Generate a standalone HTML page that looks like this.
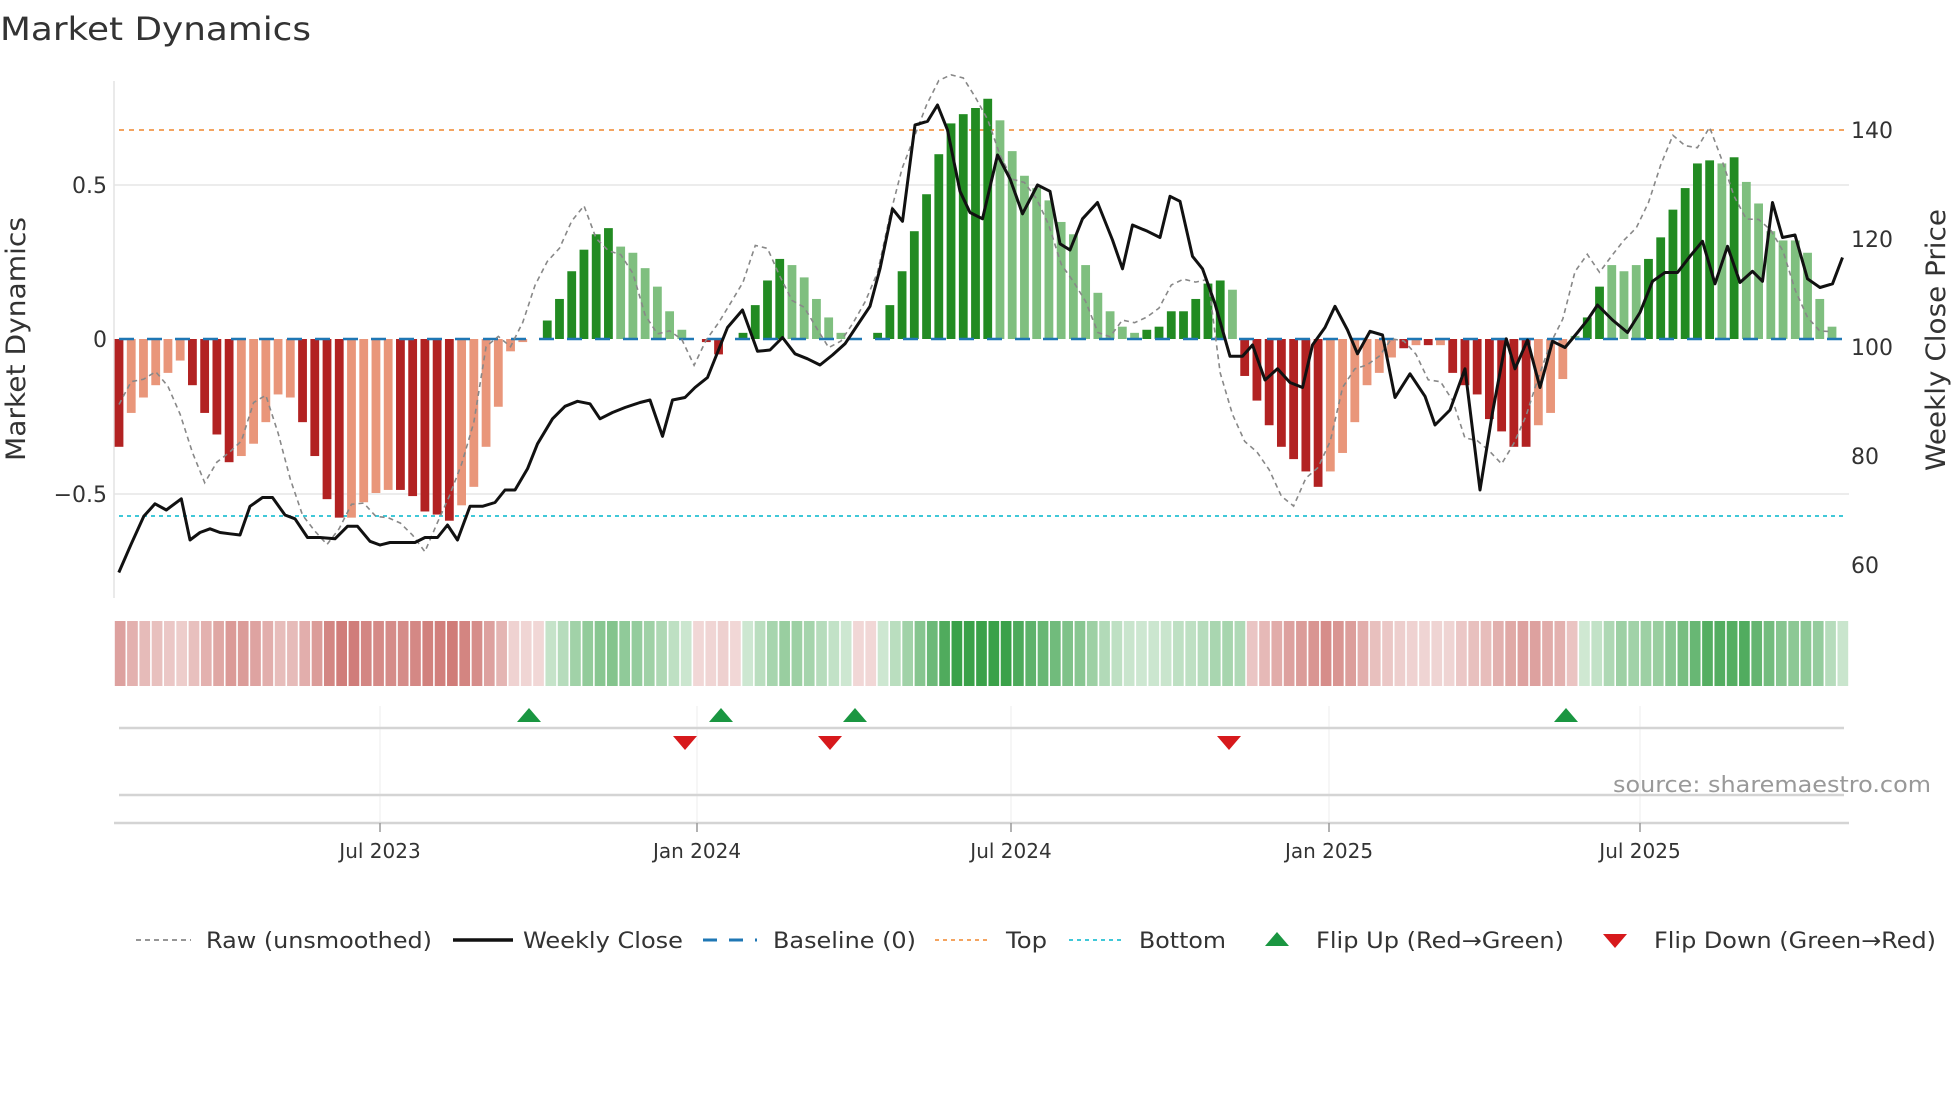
<!DOCTYPE html>
<html><head><meta charset="utf-8"><style>
html,body{margin:0;padding:0;background:#fff;}
svg{display:block;font-family:"DejaVu Sans","Liberation Sans",sans-serif;}
</style></head><body>
<svg id="c" width="1960" height="1102" viewBox="0 0 1960 1102" xmlns="http://www.w3.org/2000/svg">
<text x="0" y="40" font-size="32" fill="#333" textLength="311" lengthAdjust="spacingAndGlyphs">Market Dynamics</text>
</svg>
<script>
const S=document.getElementById('c');const NS='http://www.w3.org/2000/svg';
function el(t,a,txt){const e=document.createElementNS(NS,t);for(const k in a)e.setAttribute(k,a[k]);if(txt!==undefined)e.textContent=txt;S.appendChild(e);return e;}
const B=[[-.35,1],[-.24,0],[-.19,0],[-.15,0],[-.11,0],[-.07,0],[-.15,1],[-.24,1],[-.31,1],[-.40,1],[-.38,0],[-.34,0],[-.27,0],[-.18,0],[-.19,0],[-.27,1],[-.38,1],[-.52,1],[-.58,1],[-.58,0],[-.53,0],[-.50,0],[-.49,0],[-.49,1],[-.51,1],[-.56,1],[-.57,1],[-.59,1],[-.54,0],[-.48,0],[-.35,0],[-.22,0],[-.04,0],[-.01,0],[0,0],
[.06,1],[.13,1],[.22,1],[.29,1],[.34,1],[.36,1],[.30,0],[.28,0],[.23,0],[.17,0],[.09,0],[.03,0],[.0,0],[-.01,1],[-.05,1],[0,0],
[.02,1],[.11,1],[.19,1],[.26,1],[.24,0],[.20,0],[.13,0],[.07,0],[.02,0],[0,0],[0,0],
[.02,1],[.11,1],[.22,1],[.35,1],[.47,1],[.60,1],[.70,1],[.73,1],[.75,1],[.78,1],[.71,0],[.61,0],[.53,0],[.49,0],[.45,0],[.38,0],[.34,0],[.24,0],[.15,0],[.09,0],[.04,0],[.02,0],[.03,1],[.04,1],[.09,1],[.09,1],[.13,1],[.18,1],[.19,1],[.16,0],[.11,0],
[-.12,1],[-.20,1],[-.28,1],[-.35,1],[-.39,1],[-.43,1],[-.48,1],[-.43,0],[-.37,0],[-.27,0],[-.15,0],[-.11,0],[-.06,0],[-.03,1],[-.02,0],[-.02,1],[-.02,0],[-.11,1],[-.15,1],[-.18,1],[-.26,1],[-.30,1],[-.35,1],[-.35,1],[-.28,0],[-.24,0],[-.13,0],
[.01,0],[.07,1],[.17,1],[.24,0],[.22,0],[.24,0],[.26,1],[.33,1],[.42,1],[.49,1],[.57,1],[.58,1],[.57,0],[.59,1],[.51,0],[.44,0],[.35,0],[.32,0],[.32,0],[.28,0],[.13,0],[.04,0]];
B.splice(92,1);
const N=B.length,X0=119,DX=(1832-119)/(N-1),Y0=339,K=308;
const yv=v=>Y0-v*K;
el('line',{x1:114,x2:1849,y1:185,y2:185,stroke:'#ececec','stroke-width':2});
el('line',{x1:114,x2:1849,y1:494,y2:494,stroke:'#ececec','stroke-width':2});
el('line',{x1:114,x2:114,y1:81,y2:598,stroke:'#e4e4e4','stroke-width':1.5});
el('line',{x1:119,x2:1845,y1:130,y2:130,stroke:'#f4a460','stroke-width':2,'stroke-dasharray':'5,5'});
el('line',{x1:119,x2:1845,y1:516,y2:516,stroke:'#40c8d8','stroke-width':2,'stroke-dasharray':'4,4'});
B.forEach((b,i)=>{const v=b[0];if(Math.abs(v)<0.004)return;const x=X0+i*DX;
 const c=v>0?(b[1]?'#228b22':'#7fbf7f'):(b[1]?'#b22222':'#e9967a');
 el('rect',{x:x-4.4,y:Math.min(yv(v),Y0),width:8.8,height:Math.abs(v*K),fill:c});});
el('line',{x1:119,x2:1845,y1:339,y2:339,stroke:'#1f77b4','stroke-width':2.5,'stroke-dasharray':'15,13'});
let rp=[];for(let i=0;i<N;i++){const j=Math.min(N-1,i+2);let v=B[j][0]*1.12+Math.sin(i*1.7)*0.03;rp.push((X0+i*DX).toFixed(1)+','+yv(v).toFixed(1));}
el('polyline',{points:rp.join(' '),fill:'none',stroke:'#888','stroke-width':1.6,'stroke-dasharray':'5,4'});
const P=[[95,458],[105,435],[115,413],[124,403],[133,408],[145,399],[152,432],[160,426],[168,423],[176,426],[184,427],[192,428],[200,405],[210,398],[218,398],[228,412],[236,415],[246,430],[256,430],[268,431],[278,421],[286,421],[296,433],[304,436],[312,434],[322,434],[332,434],[340,430],[350,430],[358,420],[366,432],[376,405],[386,405],[396,402],[404,392],[412,392],[422,375],[430,355],[442,335],[452,325],[462,321],[472,323],[480,335],[490,330],[500,326],[512,322],[520,320],[530,349],[538,320],[548,318],[556,310],[566,302],[574,282],[582,262],[594,248],[606,281],[616,280],[626,270],[636,283],[646,287],[656,292],[666,284],[676,275],[686,260],[696,245],[704,215],[714,167],[722,177],[732,100],[742,97],[750,84],[758,104],[768,153],[776,170],[786,175],[798,124],[808,143],[818,171],[830,148],[840,153],[848,195],[856,200],[866,175],[878,162],[890,192],[898,215],[906,180],[918,185],[928,190],[936,157],[944,161],[954,205],[962,215],[972,243],[984,285],[994,285],[1002,276],[1012,304],[1022,295],[1032,306],[1042,310],[1050,276],[1060,262],[1068,245],[1078,264],[1086,283],[1096,265],[1106,268],[1116,318],[1128,299],[1140,317],[1148,340],[1160,328],[1172,295],[1184,392],[1194,330],[1205,271],[1212,295],[1222,272],[1232,310],[1242,273],[1252,278],[1262,266],[1270,256],[1278,244],[1290,256],[1302,266],[1312,250],[1322,225],[1332,218],[1342,218],[1352,205],[1362,193],[1372,227],[1382,197],[1392,226],[1402,217],[1410,225],[1418,162],[1426,190],[1436,188],[1446,223],[1456,230],[1466,227],[1474,206]];
el('polyline',{points:P.map(p=>(p[0]*1.25).toFixed(1)+','+(p[1]*1.25).toFixed(1)).join(' '),fill:'none',stroke:'#111','stroke-width':3,'stroke-linejoin':'round'});
const lt={'font-size':22,fill:'#333'};
[[185,'0.5'],[339,'0'],[494,'\u22120.5']].forEach(a=>el('text',Object.assign({x:107,y:a[0]+8,'text-anchor':'end'},lt),a[1]));
[[130,'140'],[239,'120'],[347,'100'],[456,'80'],[565,'60']].forEach(a=>el('text',Object.assign({x:1851,y:a[0]+8},lt),a[1]));
el('text',{x:0,y:0,'font-size':27,fill:'#333','text-anchor':'middle',transform:'translate(25,339) rotate(-90)',textLength:244,lengthAdjust:'spacingAndGlyphs'},'Market Dynamics');
el('text',{x:0,y:0,'font-size':27,fill:'#333','text-anchor':'middle',transform:'translate(1945,340) rotate(-90)',textLength:262,lengthAdjust:'spacingAndGlyphs'},'Weekly Close Price');
const SW=(1849-114)/N;
B.forEach((b,i)=>{const v=b[0];const x=114+i*SW;const a=Math.min(1,Math.abs(v)/0.7);
 let c;if(v>=0.005){c=`rgba(46,155,62,${(0.22+0.72*a).toFixed(2)})`;}else{c=`rgba(190,75,70,${(0.22+0.6*a).toFixed(2)})`;}
 el('rect',{x:x+0.8,y:621,width:SW-1.6,height:65,fill:c});});
[380,697,1011,1329,1640].forEach(x=>{el('line',{x1:x,x2:x,y1:706,y2:823,stroke:'#f0f0f0','stroke-width':1.2});});
el('line',{x1:119,x2:1844,y1:728,y2:728,stroke:'#d4d4d4','stroke-width':2.5});
el('line',{x1:119,x2:1844,y1:795,y2:795,stroke:'#d4d4d4','stroke-width':2.5});
el('line',{x1:114,x2:1849,y1:823,y2:823,stroke:'#d4d4d4','stroke-width':2.5});
[529,721,855,1566].forEach(x=>el('polygon',{points:`${x-12},722 ${x+12},722 ${x},708`,fill:'#1a9641'}));
[685,830,1229].forEach(x=>el('polygon',{points:`${x-12},736 ${x+12},736 ${x},750`,fill:'#d7191c'}));
el('text',{x:1931,y:792,'font-size':22,fill:'#999','text-anchor':'end',textLength:318,lengthAdjust:'spacingAndGlyphs'},'source: sharemaestro.com');
[[380,'Jul 2023'],[697,'Jan 2024'],[1011,'Jul 2024'],[1329,'Jan 2025'],[1640,'Jul 2025']].forEach(a=>{
 el('line',{x1:a[0],x2:a[0],y1:823,y2:832,stroke:'#999','stroke-width':1.5});
 el('text',{x:a[0],y:858,'font-size':20,fill:'#333','text-anchor':'middle'},a[1]);});
const LY=940;
el('line',{x1:136,x2:191,y1:LY,y2:LY,stroke:'#888','stroke-width':1.8,'stroke-dasharray':'5,4'});
el('line',{x1:453,x2:513,y1:LY,y2:LY,stroke:'#111','stroke-width':3.5});
el('line',{x1:703,x2:757,y1:LY,y2:LY,stroke:'#1f77b4','stroke-width':3,'stroke-dasharray':'14,12'});
el('line',{x1:935,x2:990,y1:LY,y2:LY,stroke:'#f4a460','stroke-width':2,'stroke-dasharray':'4,4'});
el('line',{x1:1069,x2:1124,y1:LY,y2:LY,stroke:'#40c8d8','stroke-width':2,'stroke-dasharray':'4,4'});
el('polygon',{points:'1265,946 1289,946 1277,932',fill:'#1a9641'});
el('polygon',{points:'1603,934 1627,934 1615,948',fill:'#d7191c'});
[[206,'Raw (unsmoothed)',226],[523,'Weekly Close',160],[773,'Baseline (0)',143],[1006,'Top',41],[1139,'Bottom',87],[1316,'Flip Up (Red\u2192Green)',248],[1654,'Flip Down (Green\u2192Red)',282]].forEach(a=>
 el('text',{x:a[0],y:LY+8,'font-size':22,fill:'#333',textLength:a[2],lengthAdjust:'spacingAndGlyphs'},a[1]));
</script>
</body></html>
